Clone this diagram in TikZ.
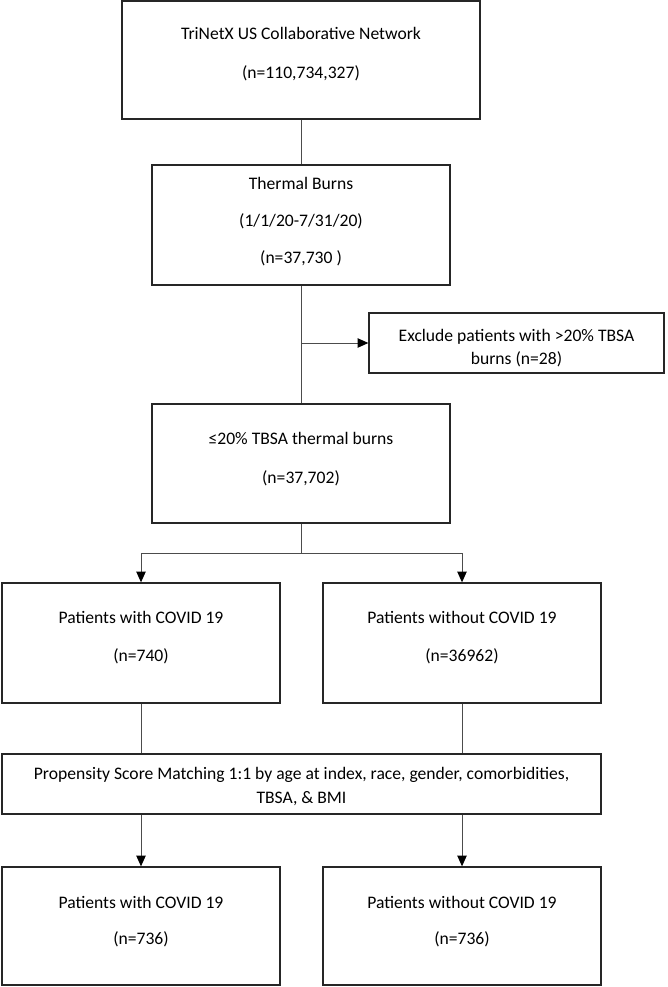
\documentclass[tikz,border=0pt]{standalone}
\usepackage{fontspec}
\setmainfont{Carlito}
\usetikzlibrary{arrows.meta}
\begin{document}
\begin{tikzpicture}[x=0.75pt,y=-0.75pt,
  box/.style={draw=black!85,line width=1pt,rectangle,inner sep=0pt},
  txt/.style={anchor=base,inner sep=0pt,font=\fontsize{13.2pt}{15pt}\selectfont},
  conn/.style={draw=black!70,line width=0.75pt},
  arr/.style={conn,-{Triangle[length=8pt,width=7pt,color=black]}}]
\useasboundingbox[fill=white] (0,0) rectangle (667,987);
% boxes
\node[box,minimum width=268.5pt,minimum height=88.5pt] (b1) at (301,60) {};
\node[box,minimum width=223.5pt,minimum height=90pt] (b2) at (301,225) {};
\node[box,minimum width=221.25pt,minimum height=45pt] (ex) at (516.5,343) {};
\node[box,minimum width=223.5pt,minimum height=89.25pt] (b3) at (301,463.5) {};
\node[box,minimum width=208.5pt,minimum height=90pt] (l1) at (141,643) {};
\node[box,minimum width=208.5pt,minimum height=90pt] (r1) at (462,643) {};
\node[box,minimum width=449.25pt,minimum height=45pt] (ps) at (301.5,784) {};
\node[box,minimum width=208.5pt,minimum height=88.5pt] (l2) at (141,926) {};
\node[box,minimum width=208.5pt,minimum height=88.5pt] (r2) at (462,926) {};
% texts
\node[txt] (t1a) at (301,40) {TriNetX US Collaborative Network};
\node[txt] (t1b) at (301,79) {(n=110,734,327)};
\node[txt] (t2a) at (301,190) {Thermal Burns};
\node[txt] (t2b) at (301,227) {(1/1/20-7/31/20)};
\node[txt] (t2c) at (301,264) {(n=37,730 )};
\node[txt] (txa) at (516.5,341) {Exclude patients with >20\% TBSA};
\node[txt] (txb) at (516.5,364) {burns (n=28)};
\node[txt] (t3a) at (301,444) {≤20\% TBSA thermal burns};
\node[txt] (t3b) at (301,483) {(n=37,702)};
\node[txt] (tla) at (141,623) {Patients with COVID 19};
\node[txt] (tlb) at (141,661) {(n=740)};
\node[txt] (tra) at (462,623) {Patients without COVID 19};
\node[txt] (trb) at (462,661) {(n=36962)};
\node[txt] (tpa) at (301.5,779) {Propensity Score Matching 1:1 by age at index, race, gender, comorbidities,};
\node[txt] (tpb) at (301.5,803) {TBSA, \& BMI};
\node[txt] (tl2a) at (141,908) {Patients with COVID 19};
\node[txt] (tl2b) at (141,944) {(n=736)};
\node[txt] (tr2a) at (462,908) {Patients without COVID 19};
\node[txt] (tr2b) at (462,944) {(n=736)};
% connectors
\draw[conn] (b1.south) -- (b2.north);
\draw[conn] (b2.south) -- (b3.north);
\draw[arr] (b2.south |- ex.west) -- (ex.west);
\coordinate (sp) at (301,553);
\draw[conn] (b3.south) -- (sp);
\draw[arr] (sp) -| (l1.north);
\draw[arr] (sp) -| (r1.north);
\draw[conn] (l1.south) -- (l1.south |- ps.north);
\draw[conn] (r1.south) -- (r1.south |- ps.north);
\draw[arr] (l1.south |- ps.south) -- (l2.north);
\draw[arr] (r1.south |- ps.south) -- (r2.north);
\end{tikzpicture}
\end{document}
